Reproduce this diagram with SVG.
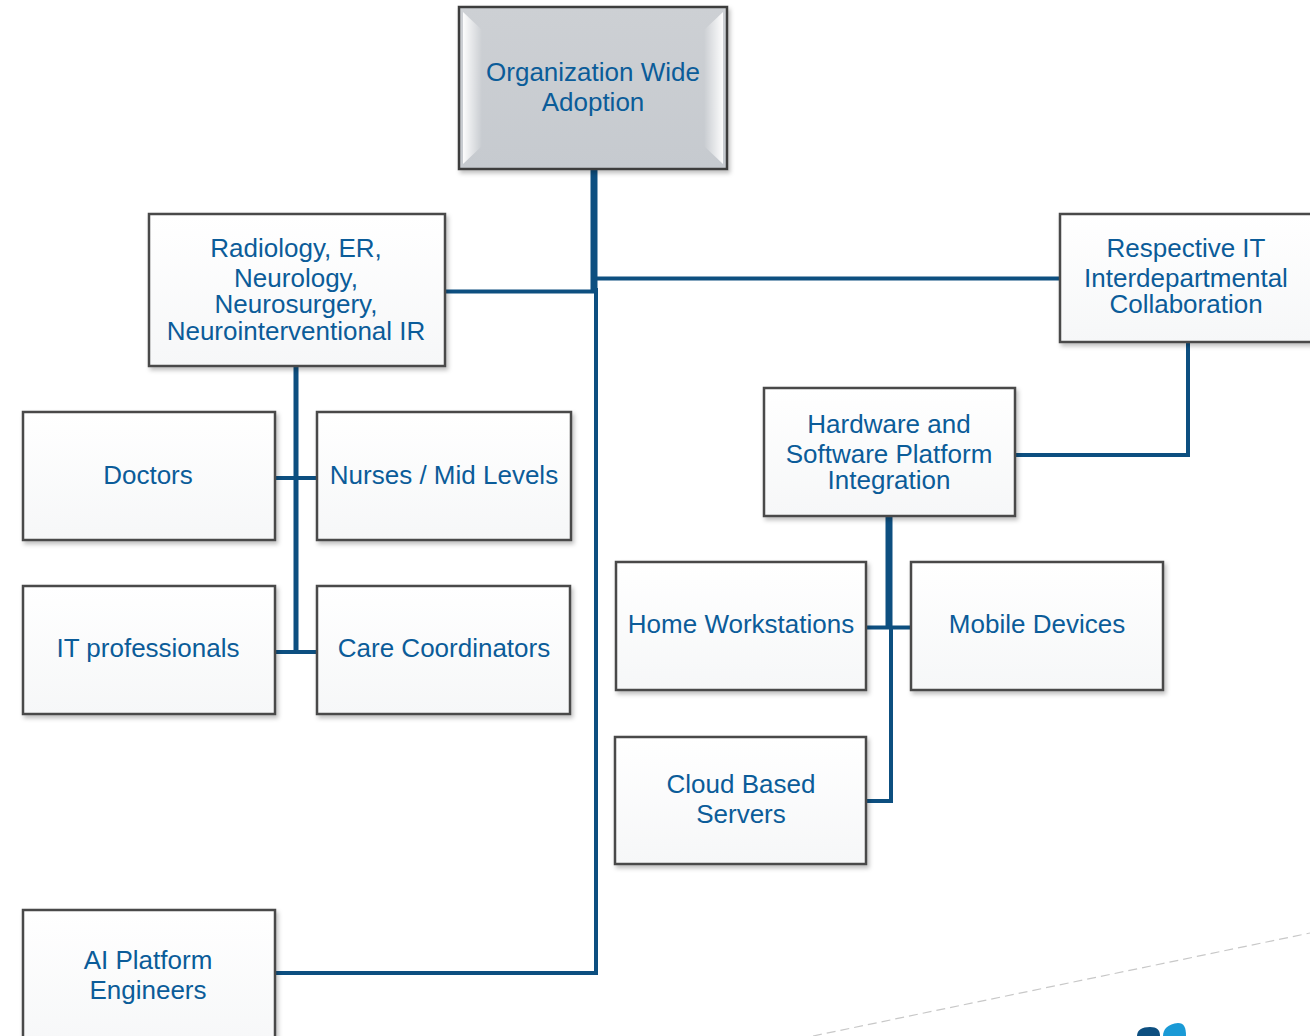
<svg xmlns="http://www.w3.org/2000/svg" width="1310" height="1036" viewBox="0 0 1310 1036">
  <style>
    .box { fill: url(#boxFill); stroke: #4a4a4a; stroke-width: 2.5; filter: url(#shadow); }
    .lbl { font-family: "Liberation Sans", Arial, sans-serif; font-size: 26px; fill: #0b5c99; text-anchor: middle; }
    .wire { fill: none; stroke: #0d4f80; stroke-linejoin: miter; stroke-linecap: butt; }
  </style>
  <defs>
    <linearGradient id="boxFill" x1="0" y1="0" x2="0" y2="1">
      <stop offset="0" stop-color="#ffffff"/>
      <stop offset="1" stop-color="#f6f7f8"/>
    </linearGradient>
    <linearGradient id="topFill" x1="0" y1="0" x2="0" y2="1">
      <stop offset="0" stop-color="#cdd0d4"/>
      <stop offset="1" stop-color="#c6cacf"/>
    </linearGradient>
    <linearGradient id="bevelL" x1="0" y1="0" x2="1" y2="0">
      <stop offset="0" stop-color="#ffffff" stop-opacity="0.95"/>
      <stop offset="1" stop-color="#ffffff" stop-opacity="0"/>
    </linearGradient>
    <linearGradient id="bevelR" x1="1" y1="0" x2="0" y2="0">
      <stop offset="0" stop-color="#ffffff" stop-opacity="0.95"/>
      <stop offset="1" stop-color="#ffffff" stop-opacity="0"/>
    </linearGradient>
    <filter id="shadow" x="-10%" y="-10%" width="125%" height="125%">
      <feDropShadow dx="2" dy="3" stdDeviation="2" flood-color="#000" flood-opacity="0.25"/>
    </filter>
  </defs>

  <rect width="1310" height="1036" fill="#ffffff"/>

  <!-- faint dashed guide line and partial logo in lower right corner -->
  <line x1="813" y1="1036" x2="1310" y2="933" stroke="#c8c8c8" stroke-width="1.2" stroke-dasharray="9 5"/>
  <path d="M1137 1036 C1137 1030 1142 1027 1150 1027 C1157 1027 1160 1030 1160 1036 Z" fill="#0d4f80"/>
  <path d="M1163 1036 C1163 1029 1168 1024 1178 1023 C1184 1023 1186 1027 1186 1036 Z" fill="#1a9ad6"/>

  <!-- connectors -->
  <g id="connectors">
    <!-- trunk from top node -->
    <line class="wire" x1="594" y1="170" x2="594" y2="291" stroke-width="7"/>
    <line class="wire" x1="596" y1="288" x2="596" y2="975" stroke-width="4"/>
    <line class="wire" x1="597" y1="278.5" x2="1060" y2="278.5" stroke-width="4"/>
    <line class="wire" x1="445" y1="291.5" x2="598" y2="291.5" stroke-width="4"/>
    <line class="wire" x1="275" y1="973" x2="598" y2="973" stroke-width="4"/>
    <!-- clinical departments branch -->
    <line class="wire" x1="296" y1="366" x2="296" y2="654" stroke-width="5"/>
    <line class="wire" x1="275" y1="478" x2="317" y2="478" stroke-width="4"/>
    <line class="wire" x1="275" y1="652" x2="317" y2="652" stroke-width="4"/>
    <!-- IT collaboration branch -->
    <polyline class="wire" points="1188,342 1188,455 1015,455" stroke-width="4"/>
    <!-- platform integration branch -->
    <line class="wire" x1="889" y1="516" x2="889" y2="629" stroke-width="7"/>
    <line class="wire" x1="866" y1="627.5" x2="911" y2="627.5" stroke-width="4"/>
    <polyline class="wire" points="891,627 891,801 866,801" stroke-width="4"/>
  </g>

  <!-- nodes -->
  <g id="node-org">
    <rect x="459" y="7" width="268" height="162" fill="url(#topFill)" stroke="#3c3c3c" stroke-width="2.5" filter="url(#shadow)"/>
    <path d="M463 12 L482 30 L482 146 L463 164 Z" fill="url(#bevelL)"/>
    <path d="M723 12 L704 30 L704 146 L723 164 Z" fill="url(#bevelR)"/>
    <text class="lbl" x="593" y="81">Organization Wide</text>
    <text class="lbl" x="593" y="111">Adoption</text>
  </g>

  <g id="node-departments">
    <rect class="box" x="149" y="214" width="296" height="152"/>
    <text class="lbl" x="296" y="257">Radiology, ER,</text>
    <text class="lbl" x="296" y="287">Neurology,</text>
    <text class="lbl" x="296" y="313">Neurosurgery,</text>
    <text class="lbl" x="296" y="340">Neurointerventional IR</text>
  </g>

  <g id="node-it-collab">
    <rect class="box" x="1060" y="214" width="262" height="128"/>
    <text class="lbl" x="1186" y="257">Respective IT</text>
    <text class="lbl" x="1186" y="287">Interdepartmental</text>
    <text class="lbl" x="1186" y="313">Collaboration</text>
  </g>

  <g id="node-doctors">
    <rect class="box" x="23" y="412" width="252" height="128"/>
    <text class="lbl" x="148" y="484">Doctors</text>
  </g>

  <g id="node-nurses">
    <rect class="box" x="317" y="412" width="254" height="128"/>
    <text class="lbl" x="444" y="484">Nurses / Mid Levels</text>
  </g>

  <g id="node-it-pros">
    <rect class="box" x="23" y="586" width="252" height="128"/>
    <text class="lbl" x="148" y="657">IT professionals</text>
  </g>

  <g id="node-care">
    <rect class="box" x="317" y="586" width="253" height="128"/>
    <text class="lbl" x="444" y="657">Care Coordinators</text>
  </g>

  <g id="node-platform">
    <rect class="box" x="764" y="388" width="251" height="128"/>
    <text class="lbl" x="889" y="433">Hardware and</text>
    <text class="lbl" x="889" y="463">Software Platform</text>
    <text class="lbl" x="889" y="489">Integration</text>
  </g>

  <g id="node-home">
    <rect class="box" x="616" y="562" width="250" height="128"/>
    <text class="lbl" x="741" y="633">Home Workstations</text>
  </g>

  <g id="node-mobile">
    <rect class="box" x="911" y="562" width="252" height="128"/>
    <text class="lbl" x="1037" y="633">Mobile Devices</text>
  </g>

  <g id="node-cloud">
    <rect class="box" x="615" y="737" width="251" height="127"/>
    <text class="lbl" x="741" y="793">Cloud Based</text>
    <text class="lbl" x="741" y="823">Servers</text>
  </g>

  <g id="node-ai">
    <rect class="box" x="23" y="910" width="252" height="140"/>
    <text class="lbl" x="148" y="969">AI Platform</text>
    <text class="lbl" x="148" y="999">Engineers</text>
  </g>
</svg>
